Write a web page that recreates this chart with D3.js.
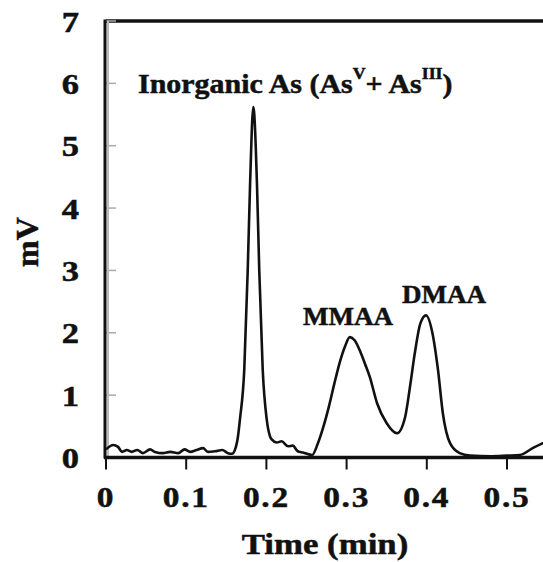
<!DOCTYPE html>
<html>
<head>
<meta charset="utf-8">
<script src="https://cdn.jsdelivr.net/npm/d3@7"></script>
<style>
    body { margin: 0; background: #fff; }
    svg { display: block; }
    text { font-family: "Liberation Serif", "Times New Roman", serif; font-weight: bold; fill: #111; stroke: #111; stroke-width: 0.5px; }
</style>
</head>
<body>
<div id="chart"></div>
<script>
// chromatogram: time (min) and signal (mV)
const times = [0.000, 0.009, 0.015, 0.020, 0.026, 0.032, 0.039, 0.046, 0.055, 0.061,
    0.071, 0.080, 0.090, 0.098, 0.105, 0.113, 0.121, 0.127, 0.136, 0.145,
    0.152, 0.157, 0.161, 0.1646, 0.167, 0.1724, 0.1767, 0.1796, 0.1837, 0.1883,
    0.1911, 0.1954, 0.2004, 0.2045, 0.2066, 0.213, 0.219, 0.227, 0.233, 0.239,
    0.2456, 0.257, 0.264, 0.271, 0.278, 0.285, 0.292, 0.298, 0.304, 0.310,
    0.317, 0.323, 0.329, 0.338, 0.350, 0.363, 0.373, 0.379, 0.385, 0.392,
    0.399, 0.408, 0.414, 0.420, 0.429, 0.441, 0.454, 0.480, 0.500, 0.516,
    0.532, 0.545, 0.560];
const signal = [0.13, 0.20, 0.17, 0.09, 0.12, 0.09, 0.12, 0.07, 0.13, 0.09,
    0.07, 0.09, 0.07, 0.13, 0.09, 0.12, 0.15, 0.09, 0.10, 0.12,
    0.07, 0.06, 0.13, 0.34, 0.61, 1.41, 3.00, 4.36, 5.62, 4.36,
    3.00, 1.41, 0.61, 0.34, 0.29, 0.24, 0.26, 0.18, 0.19, 0.10,
    0.08, 0.04, 0.22, 0.49, 0.82, 1.20, 1.55, 1.78, 1.93, 1.88,
    1.70, 1.50, 1.29, 0.87, 0.55, 0.39, 0.65, 1.13, 1.67, 2.15,
    2.28, 1.93, 1.40, 0.71, 0.23, 0.07, 0.03, 0.02, 0.03, 0.04,
    0.15, 0.23, 0.30];

const xTicks = [0, 0.1, 0.2, 0.3, 0.4, 0.5];
const xTickLabels = ["0", "0.1", "0.2", "0.3", "0.4", "0.5"];
const yTicks = [0, 1, 2, 3, 4, 5, 6, 7];

const peakNames = ["MMAA", "DMAA"];
const peakTimes = [0.2456, 0.369];   // left edge of each label
const peakLevels = [2.12, 2.47];     // baseline of each label

const width = 543, height = 562;

const svg = d3.select("#chart").append("svg")
    .attr("width", width)
    .attr("height", height);

const x = d3.scaleLinear().domain([0, 0.6]).range([106, 106 + 0.6 * 802]);
const y = d3.scaleLinear().domain([0, 7]).range([457.5, 21]);

// the print is a little wider than the font, so stretch text sideways
function wideText(parent, px, py, sx) {
    return parent.append("g")
        .attr("transform", `translate(${px},${py}) scale(${sx},1)`)
        .append("text");
}

// frame: top line and left axis
svg.append("line")
    .attr("x1", x(0)).attr("x2", x(0.6))
    .attr("y1", y(7)).attr("y2", y(7))
    .attr("stroke", "#111").attr("stroke-width", 3.5);

// y ticks (small grey marks pointing into the plot)
svg.append("g").selectAll("line")
    .data(yTicks.filter(d => d > 0))
    .enter()
    .append("line")
    .attr("x1", x(0)).attr("x2", x(0) + 10)
    .attr("y1", d => y(d)).attr("y2", d => y(d))
    .attr("stroke", "#aaa").attr("stroke-width", 1.5);

svg.append("line")
    .attr("x1", x(0) + 2).attr("x2", x(0) + 2)
    .attr("y1", y(7)).attr("y2", y(0))
    .attr("stroke", "#bbb").attr("stroke-width", 2);

svg.append("line")
    .attr("x1", x(0) - 1).attr("x2", x(0) - 1)
    .attr("y1", y(7) - 1.5).attr("y2", y(0) + 1)
    .attr("stroke", "#111").attr("stroke-width", 3);

const yLabels = svg.append("g");
yTicks.forEach(d => {
    wideText(yLabels, 79, y(d), 1.15)
        .attr("dy", "0.35em")
        .attr("text-anchor", "end")
        .style("font-size", "30px")
        .text(d);
});

// x axis
svg.append("line")
    .attr("x1", x(0) - 2).attr("x2", x(0.6))
    .attr("y1", y(0)).attr("y2", y(0))
    .attr("stroke", "#111").attr("stroke-width", 3.5);

svg.append("g").selectAll("line")
    .data(xTicks)
    .enter()
    .append("line")
    .attr("x1", d => x(d)).attr("x2", d => x(d))
    .attr("y1", y(0)).attr("y2", y(0) + 12)
    .attr("stroke", "#111").attr("stroke-width", 2);

const xLabels = svg.append("g");
xTicks.forEach((d, i) => {
    wideText(xLabels, x(d), 507, 1.15)
        .attr("text-anchor", "middle")
        .style("font-size", "29px")
        .style("letter-spacing", "1.5px")
        .text(xTickLabels[i]);
});

// trace
const line = d3.line()
    .x((d, i) => x(times[i]))
    .y(d => y(d))
    .curve(d3.curveMonotoneX);

svg.append("path")
    .datum(signal)
    .attr("d", line)
    .attr("fill", "none")
    .attr("stroke", "#111")
    .attr("stroke-width", 2.6)
    .attr("stroke-linejoin", "round");

// annotations
const inorg = wideText(svg, 138, 93, 1.11)
    .style("font-size", "27px");
inorg.append("tspan").text("Inorganic As (As");
inorg.append("tspan").attr("dy", -14).style("font-size", "16px").text("V");
inorg.append("tspan").attr("dy", 14).text("+ As");
inorg.append("tspan").attr("dy", -14).style("font-size", "16px").text("III");
inorg.append("tspan").attr("dy", 14).text(")");

const peakGroup = svg.append("g");
peakNames.forEach((name, i) => {
    wideText(peakGroup, x(peakTimes[i]), y(peakLevels[i]), 1.04)
        .style("font-size", "26px")
        .text(name);
});

// axis titles
svg.append("text")
    .attr("transform", "translate(38,242) rotate(-90)")
    .attr("text-anchor", "middle")
    .style("font-size", "32px")
    .text("mV");

wideText(svg, 325, 554, 1.16)
    .attr("text-anchor", "middle")
    .style("font-size", "30px")
    .text("Time (min)");
</script>
</body>
</html>
